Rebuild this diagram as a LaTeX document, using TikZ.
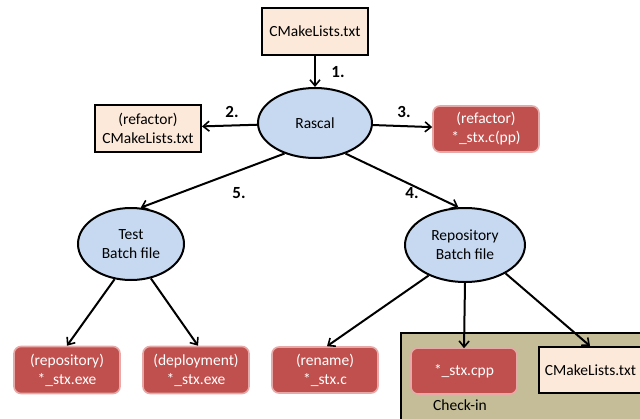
\documentclass[tikz,border=0pt]{standalone}
\usepackage{fontspec}
\setmainfont{Carlito}
\usetikzlibrary{arrows.meta,shapes.geometric}
\definecolor{peach}{HTML}{FDE9D9}
\definecolor{redfill}{HTML}{C0504D}
\definecolor{redline}{HTML}{E6A9A7}
\definecolor{bluefill}{HTML}{C6D9F1}
\definecolor{tan}{HTML}{C4BD97}
\tikzset{
  txt/.style={font=\fontsize{15.5}{19}\selectfont},
  filebox/.style={draw=black,line width=2pt,fill=peach,minimum width=#1,minimum height=47pt,align=center,txt,inner sep=0pt},
  filebox/.default=106pt,
  redbox/.style={draw=redline,line width=1.6pt,fill=redfill,rounded corners=7pt,minimum width=106pt,minimum height=46pt,align=center,text=white,txt,inner sep=0pt},
  oval/.style={ellipse,draw=black,line width=2pt,fill=bluefill,align=center,txt,inner sep=0pt},
  conn/.style={line width=2pt,-{Straight Barb[length=6pt,width=10pt,line width=1.6pt]}},
  steplabel/.style={font=\bfseries\fontsize{17}{19}\selectfont}
}
\begin{document}
\begin{tikzpicture}[x=1pt,y=-1pt]
\useasboundingbox (0,0) rectangle (640,418);
% check-in container
\node[draw=black,line width=2pt,fill=tan,minimum width=243pt,minimum height=87pt,inner sep=0pt,anchor=north west] (checkin) at (400,332) {};
\node[txt] (checkinlabel) at (460,405) {Check-in};

\node[filebox] (top) at (315,31) {CMakeLists.txt};
\node[oval,minimum width=114pt,minimum height=70pt] (rascal) at (315,123) {Rascal};
\node[filebox] (refcm) at (148,128) {(refactor)\\CMakeLists.txt};
\node[redbox] (refstx) at (486,129) {(refactor)\\*\_stx.c(pp)};
\node[oval,minimum width=106pt,minimum height=72pt] (test) at (131,244) {Test\\Batch file};
\node[oval,minimum width=120pt,minimum height=74pt] (repo) at (465,245) {Repository\\Batch file};
\node[redbox,minimum height=47pt] (repexe) at (67,370) {(repository)\\*\_stx.exe};
\node[redbox,minimum height=47pt] (depexe) at (196,370) {(deployment)\\*\_stx.exe};
\node[redbox] (rename) at (325,370) {(rename)\\*\_stx.c};
\node[redbox] (cpp) at (464,371) {*\_stx.cpp};
\node[filebox,minimum width=106pt,minimum height=46pt,anchor=west] (cicm) at (538,370) {\hspace{1pt}CMakeLists.txt\hspace{4pt}};

\draw[conn] (top) -- (rascal);
\draw[conn] (rascal) -- (refcm);
\draw[conn] (rascal) -- (refstx);
\draw[conn] (rascal.225) -- (test.75);
\draw[conn] (rascal.315) -- (repo.100);
\draw[conn] (test.245) -- (repexe.north);
\draw[conn] (test.300) -- ([xshift=2pt]depexe.north);
\draw[conn] (repo.220) -- ([xshift=2pt]rename.north);
\draw[conn] (repo.south) -- ([yshift=-1pt]cpp.north);
\draw[conn] (repo.325) -- ([xshift=-2pt]cicm.north);

\node[steplabel] (l1) at (338,72) {1.};
\node[steplabel] (l2) at (232,112) {2.};
\node[steplabel] (l3) at (404,112) {3.};
\node[steplabel] (l4) at (412,193) {4.};
\node[steplabel] (l5) at (239,193) {5.};
\end{tikzpicture}
\end{document}
